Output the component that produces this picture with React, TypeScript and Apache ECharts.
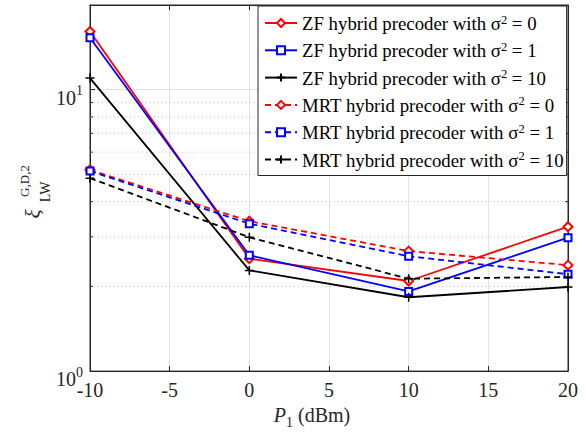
import React, { useEffect, useRef } from "react";
import * as echarts from "echarts";

// Transmit power P1 (dBm)
const powerDbm = [-10, 0, 10, 20];

// Objective values for each precoder / noise variance
const zfSigma0 = [16.1, 2.51, 2.09, 3.26];
const zfSigma1 = [15.3, 2.58, 1.92, 2.98];
const zfSigma10 = [11.0, 2.28, 1.83, 1.99];
const mrtSigma0 = [5.19, 3.41, 2.67, 2.38];
const mrtSigma1 = [5.14, 3.34, 2.56, 2.21];
const mrtSigma10 = [4.85, 2.99, 2.13, 2.16];

const seriesNames = [
  "ZF hybrid precoder with σ² = 0",
  "ZF hybrid precoder with σ² = 1",
  "ZF hybrid precoder with σ² = 10",
  "MRT hybrid precoder with σ² = 0",
  "MRT hybrid precoder with σ² = 1",
  "MRT hybrid precoder with σ² = 10",
];

// Minor log grid values between the decades
const minorGridValues = [2, 3, 4, 5, 6, 7, 8, 9];

const SERIF = "'Liberation Serif', 'Times New Roman', serif";
const AXIS_COLOR = "#262626";
const PLUS = "path://M5,0 L5,10 M0,5 L10,5";

function makeSeries(
  name: string,
  values: number[],
  color: string,
  dashed: boolean,
  symbol: string,
  symbolSize: number
) {
  return {
    name,
    type: "line",
    data: powerDbm.map((x, i) => [x, values[i]]),
    symbol,
    symbolSize,
    showAllSymbol: true,
    clip: false,
    z: 5,
    lineStyle: { color, width: 1.8, type: dashed ? [6, 4] : "solid" },
    itemStyle: { color, borderColor: color, borderWidth: 1.5 },
  };
}

export default function App() {
  const ref = useRef<HTMLDivElement>(null);

  useEffect(() => {
    if (!ref.current) return;
    const chart = echarts.init(ref.current, undefined, { renderer: "svg" });

    const option: any = {
      animation: false,
      backgroundColor: "#ffffff",
      textStyle: { fontFamily: SERIF },
      grid: {
        left: 90,
        right: 19,
        top: 5,
        bottom: 60,
        show: true,
        borderColor: AXIS_COLOR,
        borderWidth: 1,
      },
      legend: {
        orient: "vertical",
        left: 258,
        top: 6,
        data: seriesNames,
        backgroundColor: "#ffffff",
        borderColor: AXIS_COLOR,
        borderWidth: 1,
        borderRadius: 0,
        padding: [7, 3, 6, 6],
        itemWidth: 32,
        itemHeight: 10,
        itemGap: 7.3,
        formatter: (name: string) => {
          const [a, b] = name.split("²");
          return `{t|${a}}{s|2}{t|${b}}`;
        },
        textStyle: {
          fontFamily: SERIF,
          rich: {
            t: {
              fontFamily: SERIF,
              fontSize: 18.8,
              color: "#000",
              lineHeight: 20,
              verticalAlign: "bottom",
            },
            s: {
              fontFamily: SERIF,
              fontSize: 12.5,
              color: "#000",
              lineHeight: 20,
              verticalAlign: "top",
            },
          },
        },
      },
      xAxis: [
        {
          type: "value",
          min: -10,
          max: 20,
          interval: 5,
          name: "{p|P}{sub|1}{n| (dBm)}",
          nameLocation: "middle",
          nameGap: 28,
          nameTextStyle: {
            padding: [0, 34, 0, 0],
            rich: {
              p: { fontFamily: SERIF, fontStyle: "italic", fontSize: 20, color: "#262626", lineHeight: 24, verticalAlign: "top" },
              sub: { fontFamily: SERIF, fontSize: 14, color: "#262626", lineHeight: 24, verticalAlign: "bottom" },
              n: { fontFamily: SERIF, fontSize: 20, color: "#262626", lineHeight: 24, verticalAlign: "top" },
            },
          },
          axisLine: { show: true, onZero: false, lineStyle: { color: AXIS_COLOR, width: 1 } },
          axisTick: { show: true, inside: true, length: 5, lineStyle: { color: AXIS_COLOR } },
          axisLabel: {
            margin: 9,
            fontFamily: SERIF,
            fontSize: 20,
            color: "#262626",
          },
          splitLine: { show: true, lineStyle: { color: "#e3e3e3", width: 1 } },
        },
        {
          type: "value",
          position: "top",
          min: -10,
          max: 20,
          interval: 5,
          axisLine: { show: true, onZero: false, lineStyle: { color: AXIS_COLOR } },
          axisTick: { show: true, inside: true, length: 5, lineStyle: { color: AXIS_COLOR } },
          axisLabel: { show: false },
          splitLine: { show: false },
        },
      ],
      yAxis: [
        {
          type: "log",
          logBase: 10,
          min: 1,
          max: 20,
          axisLine: { show: true, onZero: false, lineStyle: { color: AXIS_COLOR } },
          axisTick: { show: true, inside: true, length: 5, lineStyle: { color: AXIS_COLOR } },
          axisLabel: {
            margin: 7,
            padding: [12, 0, 0, 0],
            formatter: (v: number) => {
              const e = Math.round(Math.log10(v));
              if (Math.abs(Math.log10(v) - e) > 1e-6) return "";
              return `{b|10}{s|${e}}`;
            },
            rich: {
              b: { fontFamily: SERIF, fontSize: 20, color: "#262626", lineHeight: 24, verticalAlign: "bottom" },
              s: { fontFamily: SERIF, fontSize: 14, color: "#262626", lineHeight: 24, verticalAlign: "top" },
            },
          },
          splitLine: { show: true, lineStyle: { color: "#e3e3e3", width: 1 } },
          minorTick: { show: false },
        },
        {
          type: "log",
          logBase: 10,
          min: 1,
          max: 20,
          position: "right",
          axisLine: { show: true, onZero: false, lineStyle: { color: AXIS_COLOR } },
          axisTick: { show: true, inside: true, length: 5, lineStyle: { color: AXIS_COLOR } },
          axisLabel: { show: false },
          splitLine: { show: false },
        },
      ],
      graphic: [
        {
          type: "text",
          x: 33,
          y: 214,
          rotation: Math.PI / 2,
          style: {
            text: "ξ",
            font: `italic 21px ${SERIF}`,
            fill: "#262626",
            textAlign: "center",
            textVerticalAlign: "middle",
          },
        },
        {
          type: "text",
          x: 24,
          y: 181,
          rotation: Math.PI / 2,
          style: {
            text: "G,D,2",
            font: `13px ${SERIF}`,
            fill: "#262626",
            textAlign: "center",
            textVerticalAlign: "middle",
          },
        },
        {
          type: "text",
          x: 45,
          y: 192,
          rotation: Math.PI / 2,
          style: {
            text: "LW",
            font: `14px ${SERIF}`,
            fill: "#262626",
            textAlign: "center",
            textVerticalAlign: "middle",
          },
        },
      ],
      series: [
        {
          name: "minor-grid",
          type: "custom",
          silent: true,
          z: 1,
          data: minorGridValues.map((v) => [-10, v]),
          renderItem: (_params: any, api: any) => {
            const v = api.value(1);
            const p1 = api.coord([-10, v]);
            const p2 = api.coord([20, v]);
            return {
              type: "group",
              children: [
                {
                  type: "line",
                  shape: { x1: p1[0], y1: p1[1], x2: p2[0], y2: p2[1] },
                  style: { stroke: "#c4c4c4", lineWidth: 1, lineDash: [1, 3] },
                },
                {
                  type: "line",
                  shape: { x1: p1[0], y1: p1[1], x2: p1[0] + 3, y2: p1[1] },
                  style: { stroke: AXIS_COLOR, lineWidth: 1 },
                },
                {
                  type: "line",
                  shape: { x1: p2[0] - 3, y1: p2[1], x2: p2[0], y2: p2[1] },
                  style: { stroke: AXIS_COLOR, lineWidth: 1 },
                },
              ],
            };
          },
        },
        makeSeries(seriesNames[0], zfSigma0, "#ff0000", false, "emptyDiamond", 9),
        makeSeries(seriesNames[1], zfSigma1, "#0000ff", false, "emptyRect", 7),
        makeSeries(seriesNames[2], zfSigma10, "#000000", false, PLUS, 9),
        makeSeries(seriesNames[3], mrtSigma0, "#ff0000", true, "emptyDiamond", 9),
        makeSeries(seriesNames[4], mrtSigma1, "#0000ff", true, "emptyRect", 7),
        makeSeries(seriesNames[5], mrtSigma10, "#000000", true, PLUS, 9),
      ],
    };

    chart.setOption(option);
    return () => chart.dispose();
  }, []);

  return (
    <div
      ref={ref}
      style={{ position: "fixed", left: 0, top: 0, width: 587, height: 434 }}
    />
  );
}
